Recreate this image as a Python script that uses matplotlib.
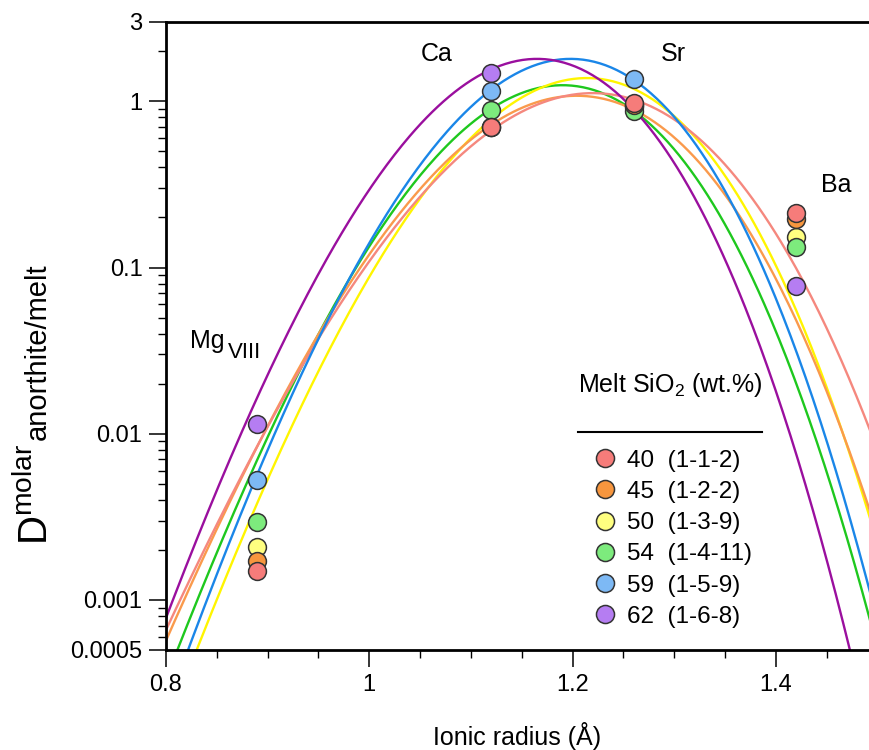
import numpy as np
import matplotlib
matplotlib.use('Agg')
import matplotlib.pyplot as plt
from matplotlib.lines import Line2D
from matplotlib.ticker import MultipleLocator, LogLocator, NullFormatter

plt.rcParams['font.family'] = ['Liberation Sans', 'DejaVu Sans']
plt.rcParams['mathtext.fontset'] = 'custom'
plt.rcParams['mathtext.rm'] = 'Liberation Sans'
plt.rcParams['mathtext.it'] = 'Liberation Sans:italic'

# 熔体 SiO2 含量与实验编号
sio2_wt = [40, 45, 50, 54, 59, 62]
run_ids = ['1-1-2', '1-2-2', '1-3-9', '1-4-11', '1-5-9', '1-6-8']

# 离子半径 (Mg VIII, Ca, Sr, Ba)
ion_radius = [0.89, 1.12, 1.26, 1.42]

# 各组实验的分配系数
d_40 = [0.00149, 0.697, 0.972, 0.2135]
d_45 = [0.00171, 0.70, 0.95, 0.197]
d_50 = [0.00207, 0.70, 0.95, 0.152]
d_54 = [0.00294, 0.891, 0.879, 0.1324]
d_59 = [0.00527, 1.16, 1.364, np.nan]
d_62 = [0.0115, 1.476, 0.93, 0.0769]
d_all = [d_40, d_45, d_50, d_54, d_59, d_62]

# lattice strain 拟合参数: D0, r0 (A), E (GPa)
fit_d0 = [1.12, 1.08, 1.38, 1.25, 1.80, 1.80]
fit_r0 = [1.22, 1.204, 1.214, 1.19, 1.198, 1.165]
fit_E = [155, 171, 194, 201, 211, 218]
T_K = 1573.0

point_colors = ['#F67C7A', '#F7963E', '#FFFF80', '#7DEB7D', '#7DB9F5', '#B57DF2']
line_colors = ['#F5887E', '#FA9A4C', '#FFF500', '#1EC81E', '#1A86E8', '#9A0F9E']


def lattice_strain(r, d0, r0, E, T):
    # Blundy & Wood (1994)
    NA = 6.022e23
    R = 8.314
    a = 4 * np.pi * NA * E * 1e9 * 1e-30 / (R * T)
    return d0 * np.exp(-a * (r0 / 2 * (r - r0) ** 2 + (r - r0) ** 3 / 3))


fig = plt.figure(figsize=(8.69, 7.5), dpi=100)
ax = fig.add_axes([166 / 869, 100 / 750, 703 / 869, 628 / 750])

r = np.linspace(0.78, 1.52, 400)
# 曲线
for i in [3, 2, 1, 0, 4, 5]:
    ax.plot(r, lattice_strain(r, fit_d0[i], fit_r0[i], fit_E[i], T_K),
            color=line_colors[i], lw=1.7, zorder=2)

# 数据点
for i in [5, 4, 2, 3, 1, 0]:
    ax.scatter(ion_radius, d_all[i], s=165, color=point_colors[i],
               edgecolors='#333333', linewidths=1.1, zorder=5)

ax.set_yscale('log')
ax.set_xlim(0.8, 1.4916)
ax.set_ylim(0.0005, 3)

ax.set_xticks([0.8, 1.0, 1.2, 1.4])
ax.set_xticklabels(['0.8', '1', '1.2', '1.4'])
ax.xaxis.set_minor_locator(MultipleLocator(0.05))
ax.set_yticks([0.0005, 0.001, 0.01, 0.1, 1, 3])
ax.set_yticklabels(['0.0005', '0.001', '0.01', '0.1', '1', '3'])
ax.yaxis.set_minor_locator(LogLocator(base=10, subs=np.arange(2, 10)))
ax.yaxis.set_minor_formatter(NullFormatter())

ax.tick_params(which='major', direction='out', length=12, width=1.1, labelsize=17, pad=5)
ax.tick_params(which='minor', direction='out', length=6, width=1.0)
ax.tick_params(top=False, right=False)

for s in ['left', 'bottom', 'top']:
    ax.spines[s].set_linewidth(2.0)
ax.spines['right'].set_visible(False)

ax.set_xlabel('Ionic radius (Å)', fontsize=18)
ax.xaxis.set_label_coords(0.5, -0.114)

# y 轴标题: D^molar 与 anorthite/melt 分开写
ax.text(-0.168, 0.167, r'D$^{\mathrm{molar}}$', fontsize=29, rotation=90,
        rotation_mode='anchor', ha='left', va='baseline', transform=ax.transAxes)
ax.text(-0.171, 0.334, 'anorthite/melt', fontsize=21, rotation=90,
        rotation_mode='anchor', ha='left', va='baseline', transform=ax.transAxes)

# 元素标注
ax.text(1.0666, 1.98, 'Ca', fontsize=18, ha='center', va='center_baseline')
ax.text(1.2988, 1.98, 'Sr', fontsize=18, ha='center', va='center_baseline')
ax.text(1.459, 0.324, 'Ba', fontsize=18, ha='center', va='center_baseline')
ax.text(0.8236, 0.0375, 'Mg', fontsize=18, ha='left', va='center_baseline')
ax.text(0.861, 0.0317, 'VIII', fontsize=16, ha='left', va='center_baseline')

# 图例
handles = [Line2D([], [], marker='o', ls='none', ms=13, mfc=c, mec='#333333', mew=1.1)
           for c in point_colors]
labels = [f'{s}  ({rid})' for s, rid in zip(sio2_wt, run_ids)]
ax.legend(handles, labels, loc='upper left', bbox_to_anchor=(0.607, 0.319),
          frameon=False, fontsize=17.5, handlelength=1.0, handletextpad=0.4,
          labelspacing=0.38, borderpad=0, borderaxespad=0)
ax.text(0.717, 0.422, r'Melt SiO$_2$ (wt.%)', fontsize=18, ha='center', va='center',
        transform=ax.transAxes)
ax.add_line(Line2D([0.586, 0.848], [0.347, 0.347], color='black', lw=1.5,
                   transform=ax.transAxes))

fig.savefig('out.png', dpi=100)
